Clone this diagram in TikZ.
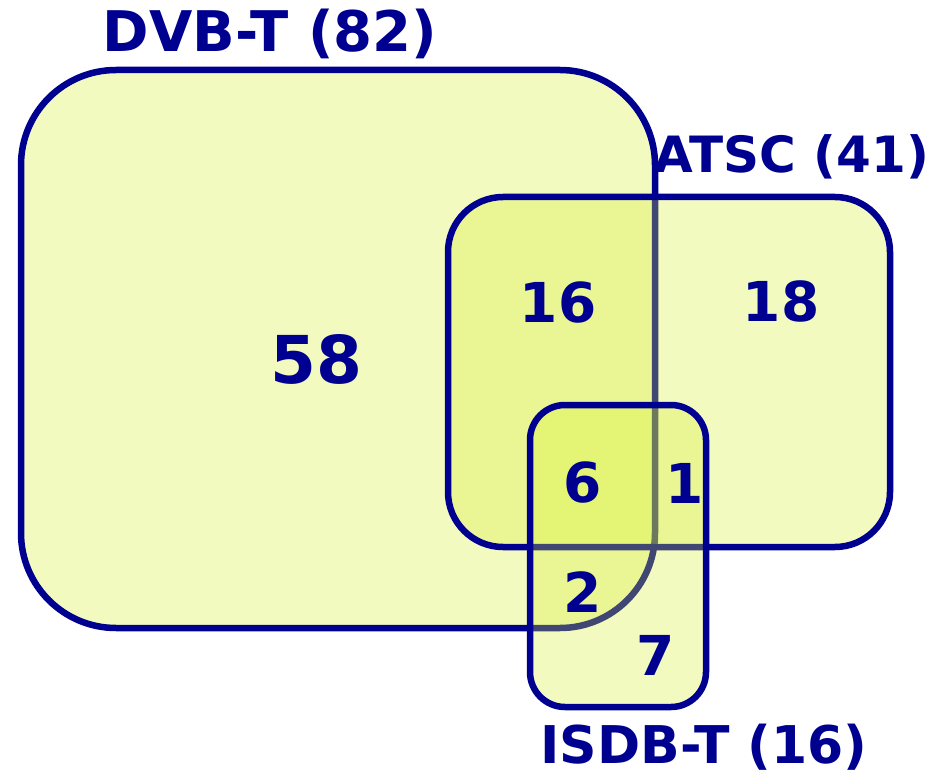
\documentclass[tikz,border=0pt]{standalone}
\usepackage{fontspec}
\setmainfont{DejaVu Sans}
\usetikzlibrary{positioning}
\definecolor{navy}{HTML}{000090}
\definecolor{lime}{HTML}{D6EE2E}
\tikzset{
  setbox/.style={draw=navy, line width=6.5pt, fill=lime, fill opacity=.3},
  setname/.style={font=\fontsize{53}{60}\selectfont\bfseries, text=navy, inner sep=0pt, anchor=base},
  count/.style={font=\fontsize{55}{60}\selectfont\bfseries, text=navy, inner sep=0pt}
}
\begin{document}
\begin{tikzpicture}[x=1pt,y=-1pt]
  \useasboundingbox (0,0) rectangle (931,775);
  % the three sets
  \draw[setbox, rounded corners=95pt] (21,70) rectangle (655,628);
  \draw[setbox, rounded corners=55pt] (448,197) rectangle (890,547);
  \draw[setbox, rounded corners=35pt] (530,405) rectangle (706,707);

  \node[setname, font=\fontsize{56}{60}\selectfont\bfseries] (dvb) at (270,52) {DVB-T (82)};
  \node[setname, font=\fontsize{50}{60}\selectfont\bfseries] (atsc) at (792,173) {ATSC (41)};
  \node[setname, font=\fontsize{52}{60}\selectfont\bfseries] (isdb) at (704,763) {ISDB-T (16)};

  \node[count, font=\fontsize{66}{70}\selectfont\bfseries] (n58) at (316,359) {58};
  \node[count] (n16) at (558,303) {16};
  \node[count] (n18) at (781,301) {18};
  \node[count] (n6) at (583,483) {6};
  \node[count] (n1) at (685,483) {1};
  \node[count] (n2) at (583,592) {2};
  \node[count] (n7) at (656,655) {7};
\end{tikzpicture}
\end{document}
